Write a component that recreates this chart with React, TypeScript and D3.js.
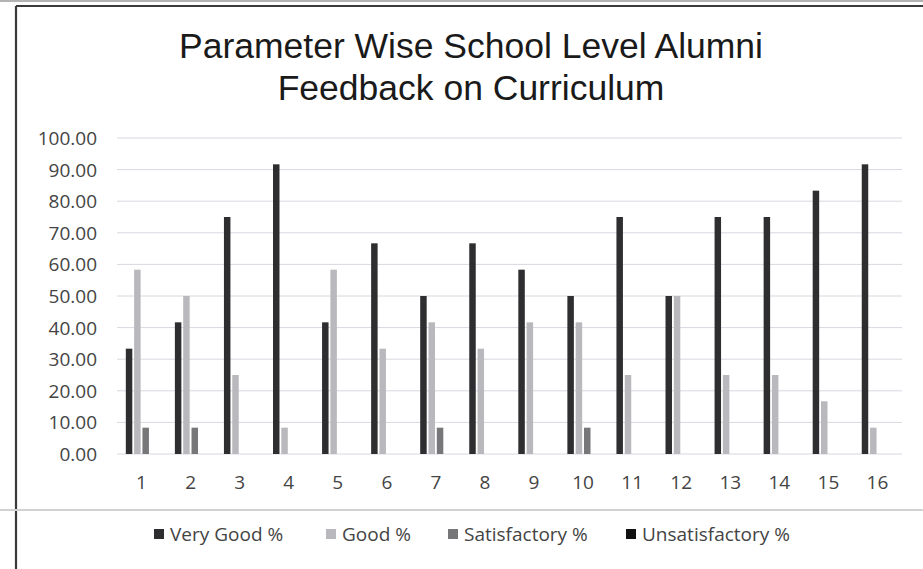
import * as d3 from "d3";

const categories = ["1", "2", "3", "4", "5", "6", "7", "8", "9", "10", "11", "12", "13", "14", "15", "16"];
const seriesNames = ["Very Good %", "Good %", "Satisfactory %", "Unsatisfactory %"];
const veryGood = [33.33, 41.67, 75, 91.67, 41.67, 66.67, 50, 66.67, 58.33, 50, 75, 50, 75, 75, 83.33, 91.67];
const good = [58.33, 50, 25, 8.33, 58.33, 33.33, 41.67, 33.33, 41.67, 41.67, 25, 50, 25, 25, 16.67, 8.33];
const satisfactory = [8.33, 8.33, 0, 0, 0, 0, 8.33, 0, 0, 8.33, 0, 0, 0, 0, 0, 0];
const unsatisfactory = [0, 0, 0, 0, 0, 0, 0, 0, 0, 0, 0, 0, 0, 0, 0, 0];
const yTicks = [0, 10, 20, 30, 40, 50, 60, 70, 80, 90, 100];
const titleLines = ["Parameter Wise School Level Alumni", "Feedback on Curriculum"];

const colors = ["#2e2e30", "#b9b9bd", "#77777a", "#111111"];
const W = 923;
const H = 569;
const labelFont = "'Open Sans', sans-serif";

export default function App() {
  const values = [veryGood, good, satisfactory, unsatisfactory];
  const plot = { left: 117, right: 902, top: 138, bottom: 454 };

  const x0 = d3.scaleBand<string>().domain(categories).range([plot.left, plot.right]).paddingInner(0);
  const x1 = d3
    .scaleBand<string>()
    .domain(seriesNames)
    .range([0, x0.bandwidth()])
    .paddingInner(0.22)
    .paddingOuter(1.06);
  const y = d3.scaleLinear().domain([0, 100]).range([plot.bottom, plot.top]);

  // legend layout (marker x positions)
  const legendX = [154, 326, 448, 626];

  return (
    <svg
      width={W}
      height={H}
      style={{ position: "absolute", left: 0, top: 0, background: "#fff" }}
    >
      <line x1={0} x2={W} y1={1} y2={1} stroke="#9a9a9a" strokeWidth={1.5} />
      <line x1={16} x2={W} y1={6} y2={6} stroke="#3a3a3a" strokeWidth={2.2} />
      <line x1={16} x2={16} y1={6} y2={H} stroke="#3a3a3a" strokeWidth={2.2} />
      <line x1={0} x2={W} y1={510} y2={510} stroke="#d2d2d2" strokeWidth={2} />

      {titleLines.map((t, i) => (
        <text
          key={t}
          x={471}
          y={58 + i * 42}
          textAnchor="middle"
          fontFamily="'Liberation Sans', Arial, sans-serif"
          fontSize={35.5}
          fill="#1a1a1a"
        >
          {t}
        </text>
      ))}

      {yTicks.map((t) => (
        <g key={t}>
          <line
            x1={plot.left}
            x2={plot.right}
            y1={y(t)}
            y2={y(t)}
            stroke="#d8d8e0"
            strokeWidth={1}
          />
          <text
            x={97}
            y={y(t) + 7}
            textAnchor="end"
            fontFamily={labelFont}
            fontSize={19}
            fill="#444"
          >
            {t.toFixed(2)}
          </text>
        </g>
      ))}

      {categories.map((c, ci) => (
        <g key={c}>
          {seriesNames.map((s, si) => {
            const v = values[si][ci];
            if (!v) return null;
            return (
              <rect
                key={s}
                x={(x0(c) ?? 0) + (x1(s) ?? 0)}
                y={y(v)}
                width={x1.bandwidth()}
                height={y(0) - y(v)}
                fill={colors[si]}
              />
            );
          })}
          <text
            x={(x0(c) ?? 0) + x0.bandwidth() / 2}
            y={489}
            textAnchor="middle"
            fontFamily={labelFont}
            fontSize={19}
            fill="#444"
          >
            {c}
          </text>
        </g>
      ))}

      {seriesNames.map((s, i) => (
        <g key={s} transform={`translate(${legendX[i]},535)`}>
          <rect x={0} y={-6} width={10} height={10} fill={colors[i]} />
          <text x={16} y={6} fontFamily={labelFont} fontSize={19} fill="#444">
            {s}
          </text>
        </g>
      ))}
    </svg>
  );
}
